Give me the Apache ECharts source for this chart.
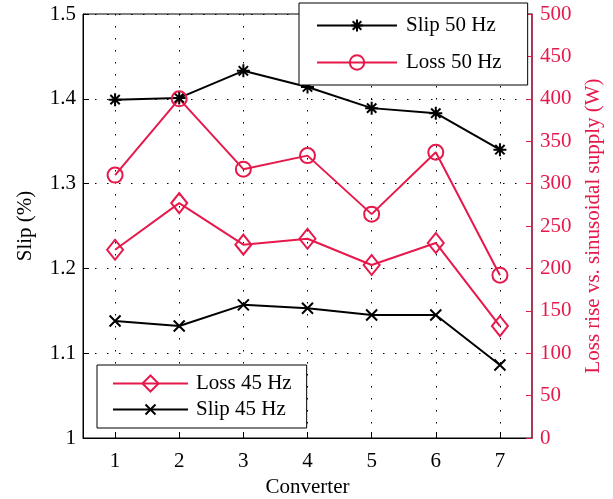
<!DOCTYPE html>
<html>
<head>
<meta charset="utf-8">
<script src="https://cdn.jsdelivr.net/npm/echarts@6/dist/echarts.min.js"></script>
<style>
html,body{margin:0;padding:0;background:#fff;}
#chart{width:613px;height:499px;}
</style>
</head>
<body>
<div id="chart"></div>
<script>
var categories = ['1','2','3','4','5','6','7'];
var slip50 = [1.399, 1.401, 1.433, 1.414, 1.389, 1.383, 1.340];
var loss50 = [310, 400, 317, 333, 264, 337, 192];
var loss45 = [222, 277, 228, 235, 204, 230, 132];
var slip45 = [1.138, 1.132, 1.157, 1.153, 1.145, 1.145, 1.086];

var RED = '#E6194B';
var FONT = '"Liberation Serif", "Times New Roman", serif';
var chart = echarts.init(document.getElementById('chart'), null, {renderer:'canvas'});

// padded paths (extra moveTo extents) so legend icons are drawn a bit smaller
var asterisk = 'path://M-1.2,-1.2M1.2,1.2M0,-1L0,1M-1,0L1,0M-0.72,-0.72L0.72,0.72M-0.72,0.72L0.72,-0.72';
var cross = 'path://M-1.6,-1.6M1.6,1.6M-1,-1L1,1M-1,1L1,-1';

function lineSeries(name, data, color, yIdx, symbol, size) {
  return {
    name: name, type: 'line', data: data, yAxisIndex: yIdx,
    symbol: symbol, symbolSize: size, showSymbol: true,
    lineStyle: {color: color, width: 2},
    itemStyle: {color: 'rgba(0,0,0,0)', borderColor: color, borderWidth: 2},
    emphasis: {disabled: true},
    animation: false
  };
}

var option = {
  animation: false,
  grid: {left: 83, right: 81, top: 14, bottom: 61, containLabel: false, outerBoundsMode: 'none',
    show: true, borderColor: '#000', borderWidth: 1, backgroundColor: 'rgba(0,0,0,0)'},
  legend: [
    {
      data: ['Slip 50 Hz', 'Loss 50 Hz'],
      orient: 'vertical', left: 299, top: 3,
      padding: [12, 26, 12, 17], itemGap: 16,
      itemWidth: 80, itemHeight: 18,
      borderColor: '#000', borderWidth: 1, backgroundColor: '#fff',
      textStyle: {fontFamily: FONT, fontSize: 21, color: '#000', padding: [0,0,0,4]}
    },
    {
      data: ['Loss 45 Hz', 'Slip 45 Hz'],
      orient: 'vertical', left: 97, top: 365,
      padding: [8, 15, 8, 15], itemGap: 5,
      itemWidth: 75, itemHeight: 20,
      borderColor: '#000', borderWidth: 1, backgroundColor: '#fff',
      textStyle: {fontFamily: FONT, fontSize: 21, color: '#000', padding: [0,0,0,3]}
    }
  ],
  xAxis: {
    type: 'category', data: categories, boundaryGap: true,
    name: 'Converter', nameLocation: 'middle', nameGap: 33,
    nameTextStyle: {fontFamily: FONT, fontSize: 21, color: '#000'},
    axisLine: {lineStyle: {color: '#000', width: 1}},
    axisTick: {show: true, inside: true, alignWithLabel: true, length: 6, lineStyle: {color: '#000'}},
    axisLabel: {fontFamily: FONT, fontSize: 21, color: '#000', margin: 13},
    splitLine: {show: true, alignWithLabel: true, lineStyle: {color: '#000', type: [1.5, 10.5], width: 1}}
  },
  yAxis: [
    {
      type: 'value', min: 1, max: 1.5, interval: 0.1, position: 'left',
      name: 'Slip (%)', nameLocation: 'middle', nameGap: 47, nameRotate: 90,
      nameTextStyle: {fontFamily: FONT, fontSize: 21, color: '#000'},
      axisLine: {show: true, lineStyle: {color: '#000', width: 1}},
      axisTick: {show: true, inside: true, length: 6, lineStyle: {color: '#000'}},
      axisLabel: {fontFamily: FONT, fontSize: 21, color: '#000', margin: 7,
        formatter: function (v) { return String(Math.round(v * 10) / 10); }},
      splitLine: {show: true, lineStyle: {color: '#000', type: [1.5, 10.5], width: 1}}
    },
    {
      type: 'value', min: 0, max: 500, interval: 50, position: 'right',
      name: 'Loss rise vs. sinusoidal supply (W)', nameLocation: 'middle', nameGap: 51, nameRotate: 90,
      nameTextStyle: {fontFamily: FONT, fontSize: 21, color: RED},
      axisLine: {show: true, lineStyle: {color: '#B8204A', width: 1.5}},
      axisTick: {show: true, inside: true, length: 6, lineStyle: {color: RED}},
      axisLabel: {fontFamily: FONT, fontSize: 21, color: RED, margin: 8},
      splitLine: {show: false}
    }
  ],
  series: [
    lineSeries('Slip 50 Hz', slip50, '#000', 0, asterisk, 15.6),
    lineSeries('Loss 50 Hz', loss50, RED, 1, 'circle', 15),
    lineSeries('Loss 45 Hz', loss45, RED, 1, 'diamond', [16, 20]),
    lineSeries('Slip 45 Hz', slip45, '#000', 0, cross, 17.6)
  ]
};
chart.setOption(option);
</script>
</body>
</html>
